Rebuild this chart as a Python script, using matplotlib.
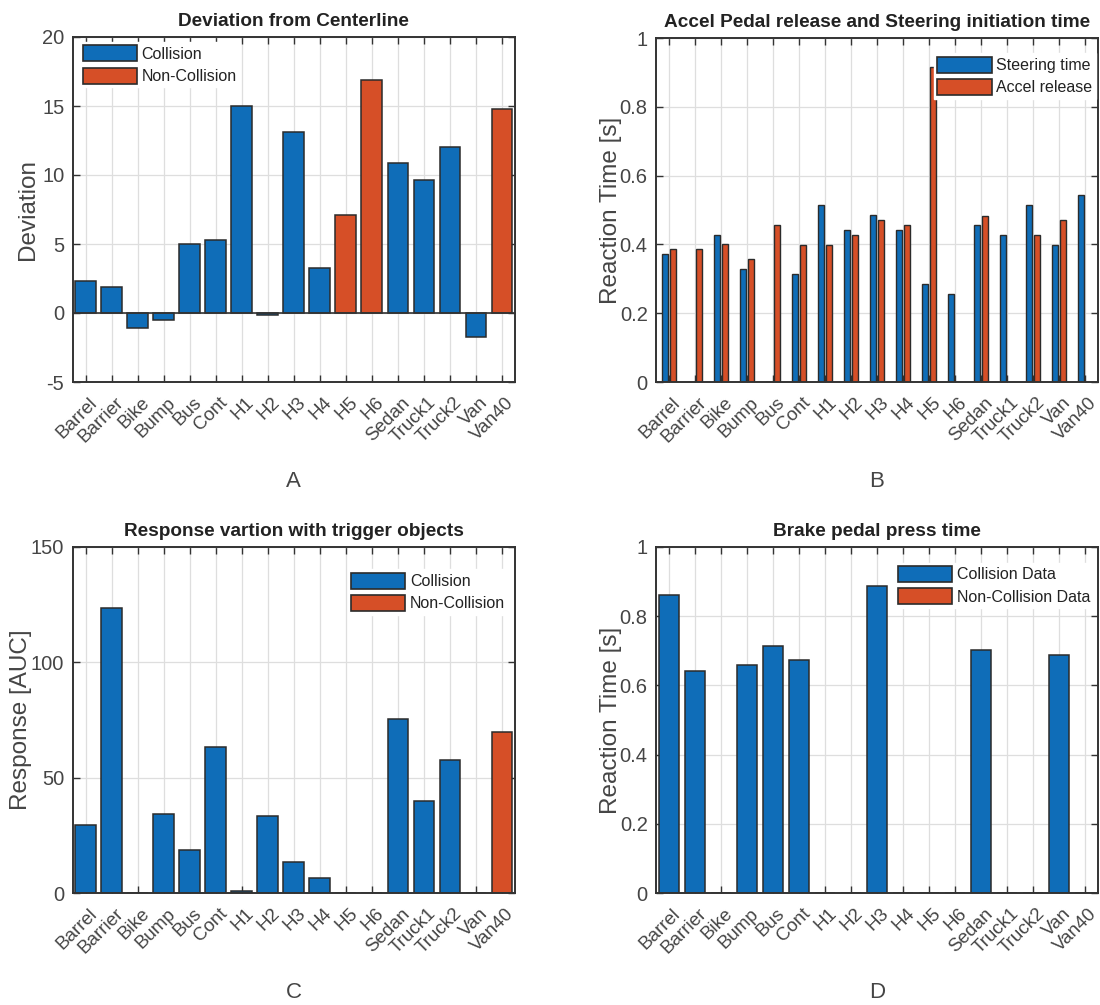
import numpy as np
import matplotlib
matplotlib.use("Agg")
import matplotlib.pyplot as plt
from matplotlib.transforms import ScaledTranslation

plt.rcParams['font.family'] = ['Liberation Sans', 'DejaVu Sans']
plt.rcParams['axes.unicode_minus'] = False

objects = ['Barrel', 'Barrier', 'Bike', 'Bump', 'Bus', 'Cont', 'H1', 'H2', 'H3',
           'H4', 'H5', 'H6', 'Sedan', 'Truck1', 'Truck2', 'Van', 'Van40']

# A - deviation from centerline
deviation = [2.32, 1.88, -1.06, -0.51, 4.98, 5.27, 14.98, -0.12, 13.12, 3.29,
             7.10, 16.90, 10.90, 9.66, 12.03, -1.76, 14.78]
dev_noncollision = ['H5', 'H6', 'Van40']

# B - steering / accel release time
steer_time = [0.372, 0, 0.428, 0.328, 0, 0.314, 0.514, 0.442, 0.486, 0.441,
              0.285, 0.257, 0.457, 0.428, 0.514, 0.399, 0.545]
accel_release = [0.386, 0.386, 0.400, 0.357, 0.456, 0.399, 0.398, 0.428, 0.471,
                 0.456, 0.915, 0, 0.484, 0, 0.428, 0.472, 0]

# C - response AUC
response = [29.6, 123.4, 0, 34.1, 18.5, 63.3, 0.9, 33.5, 13.3, 6.5, 0, 0,
            75.4, 40.0, 57.5, 0, 69.9]
resp_noncollision = ['Van40']

# D - brake pedal press time
brake_time = [0.860, 0.643, 0, 0.658, 0.714, 0.672, 0, 0, 0.887, 0, 0, 0,
              0.701, 0, 0, 0.687, 0]

blue = '#0f6db8'
orange = '#d64f27'
edge = '#2b2b2b'
txt = '#454545'

fig = plt.figure(figsize=(11, 10.05), dpi=100)
W, H = 1100, 1005


def make_ax(l, t, r, b):
    return fig.add_axes([l / W, 1 - b / H, (r - l) / W, (b - t) / H])


def style(ax, title, ylabel, letter, ylim, yticks, yticklabels=None, ypad=2):
    x = np.arange(1, len(objects) + 1)
    ax.set_xlim(0.5, len(objects) + 0.5)
    ax.set_ylim(*ylim)
    ax.set_xticks(x)
    ax.set_xticklabels(objects, rotation=45, ha='right', va='center',
                       rotation_mode='anchor', fontsize=13.5, color=txt)
    ax.set_yticks(yticks)
    if yticklabels is not None:
        ax.set_yticklabels(yticklabels)
    ax.tick_params(axis='y', labelsize=14.5, labelcolor=txt)
    ax.tick_params(direction='in', length=5, width=1, color='#333333',
                   top=True, right=True, pad=6)
    ax.tick_params(axis='x', pad=13)
    # shift rotated labels a bit right, like the original
    off = ScaledTranslation(9 / 100, 0, fig.dpi_scale_trans)
    for lab in ax.get_xticklabels():
        lab.set_transform(lab.get_transform() + off)
    ax.grid(True, color='#dedede', linewidth=0.9)
    ax.set_axisbelow(True)
    for s in ax.spines.values():
        s.set_color('#333333')
        s.set_linewidth(1.4)
    ax.set_title(title, fontsize=13.7, fontweight='bold', color='#222222', pad=8)
    ax.set_ylabel(ylabel, fontsize=17.5, color=txt, labelpad=ypad)
    ax.set_xlabel(letter, fontsize=16, color=txt, labelpad=18)


def legend(ax, loc, anchor, labels):
    h = [plt.Rectangle((0, 0), 1, 1, facecolor=blue, edgecolor=edge, linewidth=1.2),
         plt.Rectangle((0, 0), 1, 1, facecolor=orange, edgecolor=edge, linewidth=1.2)]
    ax.legend(h, labels, loc=loc, bbox_to_anchor=anchor, fontsize=11.5,
              handlelength=3.4, handleheight=1.15, labelspacing=0.38,
              handletextpad=0.3, borderpad=0.2, borderaxespad=0,
              frameon=True, facecolor='white', edgecolor='white', framealpha=1,
              fancybox=False, labelcolor='#222222')


x = np.arange(1, len(objects) + 1)

# A
axA = make_ax(72.7, 37, 515, 382)
colA = [orange if o in dev_noncollision else blue for o in objects]
axA.bar(x, deviation, 0.8, color=colA, edgecolor=edge, linewidth=1.1)
axA.axhline(0, color='#333333', linewidth=1.2, zorder=1.5)
style(axA, 'Deviation from Centerline', 'Deviation', 'A', (-5, 20),
      [-5, 0, 5, 10, 15, 20], ypad=2)
legend(axA, 'upper left', (0.015, 0.985), ['Collision', 'Non-Collision'])

# B
axB = make_ax(656, 38, 1098, 382)
axB.bar(x - 0.143, steer_time, 0.23, color=blue, edgecolor=edge, linewidth=1.0)
axB.bar(x + 0.143, accel_release, 0.23, color=orange, edgecolor=edge, linewidth=1.0)
style(axB, 'Accel Pedal release and Steering initiation time', 'Reaction Time [s]',
      'B', (0, 1), [0, 0.2, 0.4, 0.6, 0.8, 1], ['0', '0.2', '0.4', '0.6', '0.8', '1'],
      ypad=-2)
legend(axB, 'upper right', (0.995, 0.955), ['Steering time', 'Accel release'])

# C
axC = make_ax(72.7, 547, 515, 893)
colC = [orange if o in resp_noncollision else blue for o in objects]
axC.bar(x, response, 0.8, color=colC, edgecolor=edge, linewidth=1.1)
style(axC, 'Response vartion with trigger objects', 'Response [AUC]', 'C',
      (0, 150), [0, 50, 100, 150], ypad=-1)
legend(axC, 'upper right', (0.985, 0.935), ['Collision', 'Non-Collision'])

# D
axD = make_ax(656, 547, 1098, 893)
axD.bar(x, brake_time, 0.8, color=blue, edgecolor=edge, linewidth=1.1)
style(axD, 'Brake pedal press time', 'Reaction Time [s]', 'D', (0, 1),
      [0, 0.2, 0.4, 0.6, 0.8, 1], ['0', '0.2', '0.4', '0.6', '0.8', '1'], ypad=-2)
legend(axD, 'upper right', (0.99, 0.955), ['Collision Data', 'Non-Collision Data'])

fig.savefig('out.png', dpi=100)
